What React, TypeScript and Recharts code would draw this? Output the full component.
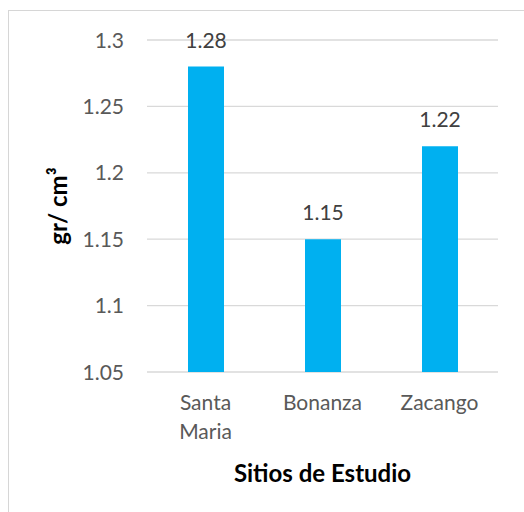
import { BarChart, Bar, XAxis, YAxis, CartesianGrid, LabelList } from "recharts";

const sites = ["Santa Maria", "Bonanza", "Zacango"];
const density = [1.28, 1.15, 1.22];
const yTicks = [1.05, 1.1, 1.15, 1.2, 1.25, 1.3];
const edgeTicks = [0, 1, 2, 3];

const data = sites.map((site, i) => ({ site, value: density[i] }));

const FONT = "Lato, 'Open Sans', sans-serif";
const TICK_COLOR = "#595959";
const GRID_COLOR = "#d9d9d9";

function YTick({ y, payload }: any) {
  return (
    <text
      x={124}
      y={y + 7.5}
      textAnchor="end"
      fill={TICK_COLOR}
      fontSize={21}
      fontFamily={FONT}
    >
      {String(payload.value)}
    </text>
  );
}

function XTick({ x, y, payload }: any) {
  const lines = String(payload.value).split(" ");
  return (
    <text
      x={x}
      y={y}
      textAnchor="middle"
      fill={TICK_COLOR}
      fontSize={21}
      fontFamily={FONT}
    >
      {lines.map((line, i) => (
        <tspan key={i} x={x} dy={i === 0 ? 38 : 29}>
          {line}
        </tspan>
      ))}
    </text>
  );
}

export default function App() {
  return (
    <div
      style={{
        position: "absolute",
        left: 0,
        top: 0,
        width: 524,
        height: 512,
        overflow: "hidden",
        background: "#fff",
      }}
    >
      <div
        style={{
          position: "absolute",
          left: 8,
          top: 10,
          width: 600,
          height: 600,
          border: "1px solid #d6d6d6",
        }}
      />
      <div style={{ position: "absolute", left: 0, top: 0 }}>
        <BarChart
          width={524}
          height={512}
          data={data}
          margin={{ top: 40, right: 26, bottom: 20, left: 0 }}
        >
          <CartesianGrid
            xAxisId="cat"
            vertical={false}
            stroke={GRID_COLOR}
            strokeWidth={1.3}
          />
          <XAxis
            xAxisId="edge"
            type="number"
            domain={[0, 3]}
            ticks={edgeTicks}
            tick={false}
            height={0}
            tickSize={6}
            axisLine={{ stroke: GRID_COLOR, strokeWidth: 1.3 }}
            tickLine={{ stroke: GRID_COLOR, strokeWidth: 1.3 }}
          />
          <XAxis
            xAxisId="cat"
            dataKey="site"
            height={120}
            axisLine={false}
            tickLine={false}
            tickSize={0}
            tickMargin={0}
            interval={0}
            tick={<XTick />}
            label={{
              value: "Sitios de Estudio",
              position: "insideBottom",
              offset: 10,
              fill: "#000",
              fontSize: 24,
              fontWeight: 700,
              fontFamily: FONT,
            }}
          />
          <YAxis
            width={147}
            domain={[1.05, 1.3]}
            ticks={yTicks}
            interval={0}
            axisLine={false}
            tickLine={false}
            tick={<YTick />}
            label={({ viewBox }: any) => (
              <text
                x={67}
                y={viewBox.y + viewBox.height / 2}
                transform={`rotate(-90, 67, ${viewBox.y + viewBox.height / 2})`}
                textAnchor="middle"
                fill="#000"
                fontSize={24}
                fontWeight={700}
                fontFamily={FONT}
              >
                gr/ cm³
              </text>
            )}
          />
          <Bar
            xAxisId="cat"
            dataKey="value"
            fill="#00b0f0"
            barSize={36}
            isAnimationActive={false}
          >
            <LabelList
              dataKey="value"
              position="top"
              offset={19}
              fill="#404040"
              fontSize={21}
              fontFamily={FONT}
            />
          </Bar>
        </BarChart>
      </div>
    </div>
  );
}
